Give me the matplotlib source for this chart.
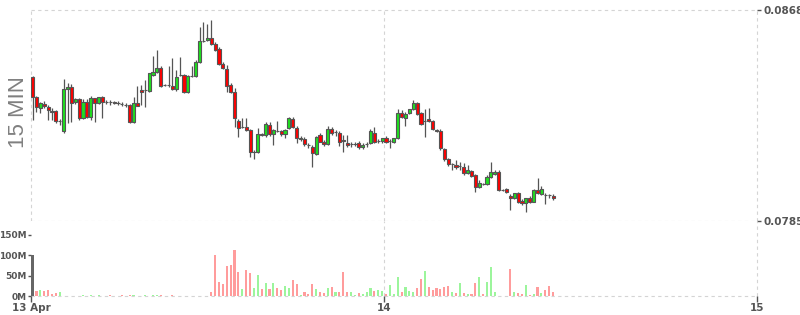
import numpy as np
import matplotlib.pyplot as plt

plt.rcParams['font.family'] = ['DejaVu Sans']

# 15-minute candles starting 13 Apr 01:15
opens = [0.08418, 0.08339, 0.08293, 0.08312, 0.08300, 0.08284, 0.08281, 0.08244, 0.08205, 0.08368,
         0.08378, 0.08318, 0.08329, 0.08254, 0.08319, 0.08258, 0.08333, 0.08315, 0.08337, 0.08319,
         0.08318, 0.08317, 0.08315, 0.08312, 0.08308, 0.08306, 0.08241, 0.08313, 0.08365, 0.08365,
         0.08362, 0.08424, 0.08437, 0.08453, 0.08384, 0.08385, 0.08382, 0.08369, 0.08423, 0.08424,
         0.08359, 0.08420, 0.08421, 0.08474, 0.08557, 0.08561, 0.08569, 0.08545, 0.08525, 0.08466,
         0.08447, 0.08385, 0.08359, 0.08243, 0.08219, 0.08221, 0.08208, 0.08122, 0.08122, 0.08192,
         0.08188, 0.08228, 0.08191, 0.08205, 0.08204, 0.08191, 0.08215, 0.08251, 0.08217, 0.08171,
         0.08171, 0.08150, 0.08142, 0.08114, 0.08188, 0.08162, 0.08153, 0.08211, 0.08201, 0.08195,
         0.08167, 0.08158, 0.08151, 0.08152, 0.08158, 0.08140, 0.08151, 0.08156, 0.08197, 0.08165,
         0.08166, 0.08178, 0.08164, 0.08162, 0.08175, 0.08274, 0.08254, 0.08274, 0.08289, 0.08315,
         0.08274, 0.08243, 0.08251, 0.08244, 0.08206, 0.08205, 0.08132, 0.08093, 0.08074, 0.08069,
         0.08065, 0.08064, 0.08040, 0.08047, 0.08031, 0.07983, 0.07996, 0.07996, 0.08022, 0.08035,
         0.08044, 0.07972, 0.07975, 0.07948, 0.07939, 0.07961, 0.07929, 0.07920, 0.07942, 0.07926,
         0.07972, 0.07956, 0.07952, 0.07952, 0.07948]
highs = [0.08420, 0.08342, 0.08319, 0.08322, 0.08306, 0.08294, 0.08287, 0.08250, 0.08409, 0.08392,
         0.08389, 0.08334, 0.08333, 0.08329, 0.08329, 0.08342, 0.08335, 0.08338, 0.08340, 0.08326,
         0.08326, 0.08324, 0.08322, 0.08319, 0.08314, 0.08310, 0.08339, 0.08381, 0.08385, 0.08405,
         0.08433, 0.08500, 0.08523, 0.08458, 0.08389, 0.08460, 0.08492, 0.08444, 0.08496, 0.08428,
         0.08425, 0.08460, 0.08483, 0.08614, 0.08634, 0.08624, 0.08641, 0.08554, 0.08536, 0.08475,
         0.08464, 0.08393, 0.08373, 0.08251, 0.08255, 0.08256, 0.08212, 0.08129, 0.08217, 0.08196,
         0.08238, 0.08238, 0.08212, 0.08243, 0.08208, 0.08212, 0.08260, 0.08259, 0.08224, 0.08184,
         0.08180, 0.08156, 0.08149, 0.08186, 0.08197, 0.08169, 0.08224, 0.08221, 0.08208, 0.08204,
         0.08188, 0.08188, 0.08161, 0.08161, 0.08165, 0.08157, 0.08161, 0.08210, 0.08219, 0.08173,
         0.08176, 0.08184, 0.08173, 0.08178, 0.08289, 0.08287, 0.08279, 0.08291, 0.08326, 0.08320,
         0.08279, 0.08289, 0.08293, 0.08249, 0.08210, 0.08210, 0.08137, 0.08098, 0.08078, 0.08090,
         0.08082, 0.08078, 0.08070, 0.08051, 0.08035, 0.08011, 0.08001, 0.08031, 0.08083, 0.08051,
         0.08049, 0.07976, 0.07978, 0.07956, 0.07960, 0.07966, 0.07937, 0.07940, 0.07948, 0.07976,
         0.08018, 0.07988, 0.07960, 0.07956, 0.07958]
lows = [0.08247, 0.08280, 0.08275, 0.08294, 0.08247, 0.08247, 0.08235, 0.08228, 0.08197, 0.08235,
        0.08241, 0.08310, 0.08247, 0.08250, 0.08255, 0.08247, 0.08241, 0.08310, 0.08254, 0.08309,
        0.08306, 0.08310, 0.08306, 0.08304, 0.08298, 0.08234, 0.08237, 0.08302, 0.08306, 0.08300,
        0.08357, 0.08420, 0.08432, 0.08377, 0.08381, 0.08379, 0.08365, 0.08361, 0.08420, 0.08353,
        0.08355, 0.08416, 0.08416, 0.08471, 0.08554, 0.08558, 0.08542, 0.08519, 0.08464, 0.08448,
        0.08359, 0.08353, 0.08221, 0.08182, 0.08214, 0.08204, 0.08103, 0.08094, 0.08119, 0.08184,
        0.08182, 0.08186, 0.08149, 0.08200, 0.08184, 0.08176, 0.08212, 0.08216, 0.08157, 0.08165,
        0.08145, 0.08136, 0.08061, 0.08110, 0.08159, 0.08145, 0.08149, 0.08188, 0.08184, 0.08145,
        0.08123, 0.08141, 0.08141, 0.08145, 0.08133, 0.08133, 0.08141, 0.08151, 0.08157, 0.08157,
        0.08157, 0.08157, 0.08137, 0.08157, 0.08171, 0.08255, 0.08224, 0.08269, 0.08285, 0.08267,
        0.08228, 0.08182, 0.08239, 0.08206, 0.08200, 0.08129, 0.08086, 0.08066, 0.08051, 0.08055,
        0.08051, 0.08031, 0.08035, 0.08023, 0.07964, 0.07978, 0.07990, 0.07992, 0.08019, 0.08031,
        0.07968, 0.07968, 0.07960, 0.07893, 0.07935, 0.07921, 0.07913, 0.07887, 0.07921, 0.07923,
        0.07958, 0.07952, 0.07917, 0.07940, 0.07933]
closes = [0.08339, 0.08297, 0.08315, 0.08304, 0.08285, 0.08280, 0.08242, 0.08245, 0.08368, 0.08378,
          0.08315, 0.08328, 0.08254, 0.08319, 0.08258, 0.08333, 0.08315, 0.08337, 0.08319, 0.08318,
          0.08317, 0.08316, 0.08314, 0.08309, 0.08306, 0.08241, 0.08313, 0.08304, 0.08359, 0.08366,
          0.08431, 0.08437, 0.08453, 0.08382, 0.08385, 0.08384, 0.08369, 0.08418, 0.08424, 0.08359,
          0.08421, 0.08421, 0.08474, 0.08558, 0.08559, 0.08569, 0.08545, 0.08523, 0.08466, 0.08451,
          0.08381, 0.08359, 0.08254, 0.08215, 0.08220, 0.08208, 0.08120, 0.08123, 0.08191, 0.08190,
          0.08230, 0.08191, 0.08208, 0.08203, 0.08191, 0.08208, 0.08254, 0.08221, 0.08175, 0.08178,
          0.08153, 0.08148, 0.08116, 0.08182, 0.08162, 0.08153, 0.08213, 0.08195, 0.08202, 0.08162,
          0.08165, 0.08149, 0.08152, 0.08153, 0.08140, 0.08149, 0.08152, 0.08205, 0.08162, 0.08166,
          0.08175, 0.08162, 0.08165, 0.08175, 0.08274, 0.08260, 0.08271, 0.08289, 0.08313, 0.08271,
          0.08232, 0.08244, 0.08244, 0.08211, 0.08205, 0.08136, 0.08093, 0.08074, 0.08075, 0.08061,
          0.08066, 0.08038, 0.08051, 0.08027, 0.07983, 0.08001, 0.07995, 0.08024, 0.08044, 0.08044,
          0.07972, 0.07971, 0.07965, 0.07939, 0.07959, 0.07926, 0.07920, 0.07939, 0.07926, 0.07972,
          0.07961, 0.07975, 0.07951, 0.07951, 0.07939]
# volume in millions
volumes = [101, 12.4, 14.8, 12.4, 14.8, 5.8, 7.4, 9.9, 0, 0,
           0, 0, 0, 1.4, 1.2, 1.5, 1.1, 1.3, 1.2, 1.0,
           1.4, 1.2, 1.1, 1.3, 1.2, 1.5, 1.4, 1.2, 1.1, 1.3,
           1.2, 1.4, 1.3, 1.5, 1.1, 1.2, 1.3, 1.2, 0, 0,
           0, 0, 0, 0, 0, 0, 10, 100.6, 34.6, 29.7,
           74, 76.7, 113.8, 58.5, 17.3, 64.3, 56, 19.8, 51, 17,
           31, 17, 31, 20.6, 15, 25, 20.6, 39.6, 29.7, 2.5,
           10, 5, 29.7, 17.3, 10, 6.6, 19.8, 22.3, 10, 10,
           59.4, 10, 10, 2.5, 6.6, 5, 10, 20.6, 12.4, 14.8,
           12.4, 5, 27, 5, 47, 10, 22.3, 12.4, 10, 19.8,
           42, 62, 22.3, 14.8, 19.8, 17.3, 22.3, 24.7, 10, 7.4,
           32, 6.6, 5, 5, 32, 47, 5, 34.6, 70, 10,
           1, 1, 1, 66.8, 10, 7.4, 5, 27, 2.5, 5,
           22.3, 7.4, 14.8, 24.7, 10]

day_ticks = [-0.4, 90.5, 186.5]
day_labels = ['13 Apr', '14', '15']
price_ticks = [0.0785, 0.0868]
vol_ticks = [0, 50, 100, 150]

o = np.array(opens); h = np.array(highs); l = np.array(lows); c = np.array(closes)
v = np.array(volumes)
x = np.arange(len(o))
up = c >= o

grid_kw = dict(color='#d4d4d4', linestyle=(0, (3, 3)), linewidth=0.8)
txt = '#555555'

fig = plt.figure(figsize=(8, 3.15), dpi=100)
left, right = 31 / 800, 757 / 800
ax = fig.add_axes([left, 94 / 315, right - left, 211 / 315])
axv = fig.add_axes([left, 19 / 315, right - left, 75 / 315], sharex=ax)

# candles
ax.vlines(x, l, h, color='#555555', linewidth=0.9, zorder=2)
ax.bar(x, np.abs(c - o), bottom=np.minimum(o, c), width=0.8,
       color=np.where(up, '#1fe01f', '#ff0000'), edgecolor='#555555',
       linewidth=0.8, zorder=3)
ax.set_xlim(-0.4, 186.5)
ax.set_ylim(0.0785, 0.0868)
ax.set_yticks(price_ticks)
ax.set_yticklabels(['%.4f' % p for p in price_ticks])
ax.yaxis.tick_right()
ax.tick_params(axis='y', length=3, width=1, color=txt, labelcolor=txt,
               labelsize=7.5, pad=1.5)
for t in ax.get_yticklabels():
    t.set_fontweight('bold')
ax.tick_params(axis='x', bottom=False, labelbottom=False)
for y in price_ticks:
    ax.axhline(y, zorder=0, clip_on=False, **grid_kw)
for xt in day_ticks:
    ax.axvline(xt, zorder=0, clip_on=False, **grid_kw)
for s in ax.spines.values():
    s.set_visible(False)

# volume
vcol = np.where(up, '#9cf59c', '#ff9c9c')
vcol[0] = '#666666'
axv.bar(x, v, width=0.55, color=vcol, zorder=2)
axv.set_ylim(0, 184)
axv.set_yticks(vol_ticks)
axv.set_yticklabels(['%dM' % t for t in vol_ticks])
axv.set_xticks(day_ticks)
axv.set_xticklabels(day_labels)
axv.tick_params(axis='y', length=2, width=1, color=txt, labelcolor=txt,
                labelsize=6.5, pad=1)
axv.tick_params(axis='x', length=4, width=1, color=txt, labelcolor=txt,
                labelsize=7.5, pad=1)
for t in axv.get_xticklabels() + axv.get_yticklabels():
    t.set_fontweight('bold')
axv.axhline(0, zorder=1, clip_on=False, **grid_kw)
for xt in day_ticks[1:]:
    axv.axvline(xt, zorder=0, clip_on=False, **grid_kw)
for s in axv.spines.values():
    s.set_visible(False)

fig.text(18 / 800, 1 - 112 / 315, '15 MIN', rotation=90, fontsize=16,
         color='#808080', ha='center', va='center', family='Liberation Sans')

fig.savefig('out.png', dpi=100)
